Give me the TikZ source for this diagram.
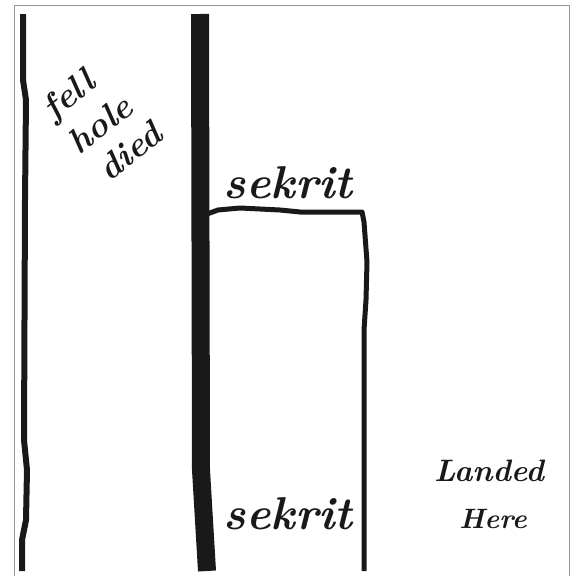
\documentclass[tikz,border=0pt]{standalone}
\usepackage{tikz}
\usepackage{xcolor}
\usetikzlibrary{positioning}
\definecolor{cInk}{RGB}{25,25,25}
\definecolor{cFrame}{RGB}{150,150,150}
\tikzset{
	frame/.style   ={draw=cFrame, line width=1pt},
	wall/.style    ={draw=cInk, line width=6pt, line join=round},
	shaft/.style   ={draw=cInk, line width=18pt},
	tunnel/.style  ={draw=cInk, line width=5pt, line join=round},
	scrawl/.style  ={text=cInk, font=\bfseries\itshape, inner sep=0pt},
	tilted/.style  ={scrawl, rotate=38, font=\bfseries\itshape\fontsize{35}{37}\selectfont},
}

\begin{document}
\begin{tikzpicture}[x=1pt, y=-1pt]
	\useasboundingbox (0,0) rectangle (576,576);
	\draw[frame] (14,576) -- (14,5) -- (569,5) -- (569,576);
	% walls
	\draw[wall] (23,14) -- (23,80) -- (26,100) -- (25,200) -- (24,440) -- (27,470) -- (26,520) -- (22,540) -- (22,571);
	\draw[shaft] (200,14) -- (201,470) -- (207,571);
	\draw[tunnel] (207,214) -- (218,210) -- (240,208) -- (280,210) -- (300,212) -- (362,212) -- (364,222) -- (367,262) -- (366,300) -- (364,330) -- (364,571);
	% labels
	\node[tilted] (fell) at (70,97) {fell};
	\node[tilted] (hole) at (100,124) {hole};
	\node[tilted] (died) at (130,151) {died};
	\node[scrawl, font=\bfseries\itshape\fontsize{46}{48}\selectfont] (sekritA) at (288,183) {sekrit};
	\node[scrawl, font=\bfseries\itshape\fontsize{46}{48}\selectfont] (sekritB) at (288,514) {sekrit};
	\node[scrawl, font=\bfseries\itshape\fontsize{31}{33}\selectfont] (landed) at (489,471) {Landed};
	\node[scrawl, font=\bfseries\itshape\fontsize{28}{30}\selectfont] (here) at (493,519) {Here};
\end{tikzpicture}
\end{document}
